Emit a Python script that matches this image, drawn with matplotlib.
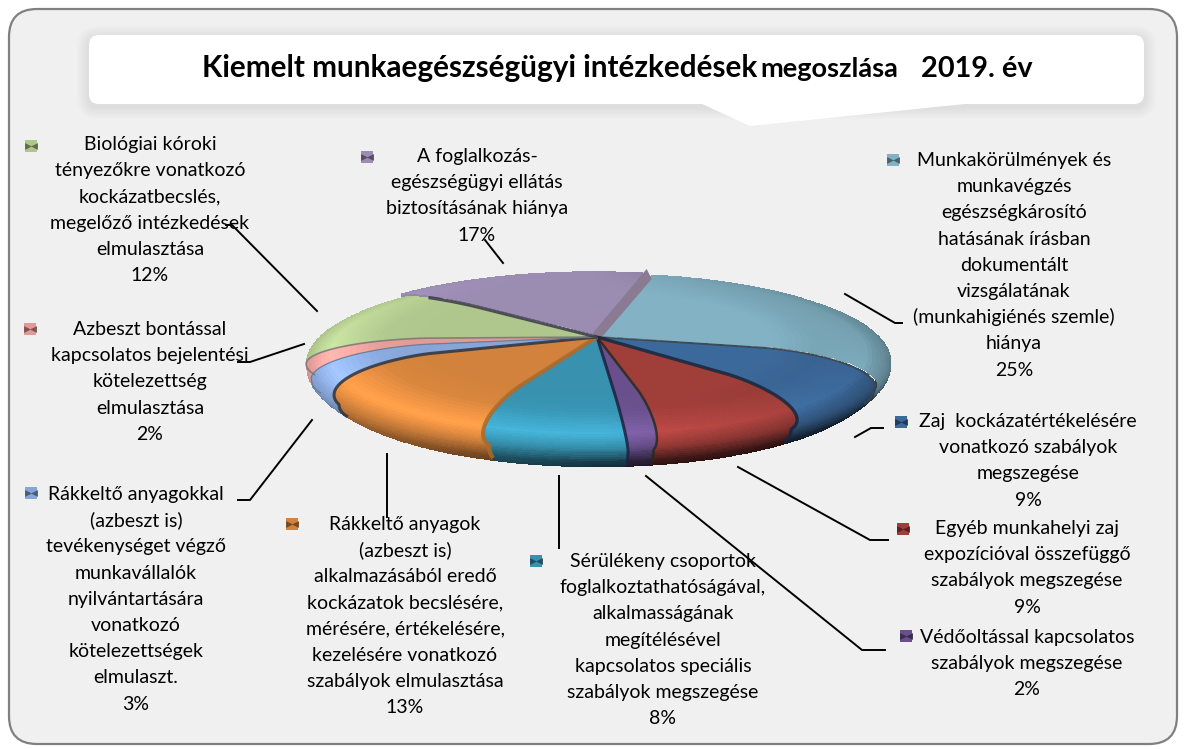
import numpy as np
import matplotlib
matplotlib.use("Agg")
import matplotlib.pyplot as plt
from matplotlib.patches import FancyBboxPatch, Polygon

plt.rcParams["font.family"] = ["Lato", "DejaVu Sans"]

# Slices, clockwise from the gap at the top
values = [25, 9, 9, 2, 8, 13, 3, 2, 12, 17]
labels = [
    "Munkakörülmények és\nmunkavégzés\negészségkárosító\nhatásának írásban\ndokumentált\nvizsgálatának\n(munkahigiénés szemle)\nhiánya",
    "Zaj  kockázatértékelésére\nvonatkozó szabályok\nmegszegése",
    "Egyéb munkahelyi zaj\nexpozícióval összefüggő\nszabályok megszegése",
    "Védőoltással kapcsolatos\nszabályok megszegése",
    "Sérülékeny csoportok\nfoglalkoztathatóságával,\nalkalmasságának\nmegítélésével\nkapcsolatos speciális\nszabályok megszegése",
    "Rákkeltő anyagok\n(azbeszt is)\nalkalmazásából eredő\nkockázatok becslésére,\nmérésére, értékelésére,\nkezelésére vonatkozó\nszabályok elmulasztása",
    "Rákkeltő anyagokkal\n(azbeszt is)\ntevékenységet végző\nmunkavállalók\nnyilvántartására\nvonatkozó\nkötelezettségek\nelmulaszt.",
    "Azbeszt bontással\nkapcsolatos bejelentési\nkötelezettség\nelmulasztása",
    "Biológiai kóroki\ntényezőkre vonatkozó\nkockázatbecslés,\nmegelőző intézkedések\nelmulasztása",
    "A foglalkozás-\negészségügyi ellátás\nbiztosításának hiánya",
]
colors = ["#82b2c4", "#3c699b", "#a03e3a", "#69508c", "#3791af",
          "#d2823c", "#87a5d7", "#e19b96", "#afc68c", "#9b8cb2"]
edge_colors = ["#3c464b", "#14283f", "#2a2a18", "#1c2440", "#b06a28",
               "#2c3440", "#667788", "#777777", "#3a3a4a", "#3a3a4a"]
edge_widths = [1.4, 2.4, 1.8, 2.2, 3.0, 2.2, 0.9, 1.2, 2.4, 0.0]

# Label placement (centre x, y of first line), legend key, leader line
label_pos = [(1014, 161), (1028, 422), (1027, 529), (1027, 638), (663, 562),
             (405, 525), (136, 495), (150, 330), (150, 145), (477, 157)]
key_pos = [(893, 160), (901, 422), (903, 529), (906, 636), (536, 561),
           (292, 524), (31, 493), (30, 329), (31, 146), (367, 157)]
leaders = [
    [(845, 294), (895, 323), (902, 323)],
    [(855, 437), (871, 428), (883, 428)],
    [(738, 467), (870, 540), (888, 540)],
    [(646, 476), (862, 650), (885, 650)],
    [(559, 476), (559, 548)],
    [(387, 454), (387, 517)],
    [(312, 420), (250, 500), (238, 500)],
    [(304, 344), (250, 362), (238, 362)],
    [(317, 311), (232, 225), (226, 225)],
    [(503, 263), (485, 240)],
]
LINE_STEP = 26.2

# Pie geometry in pixels
HUB_X, HUB_Y = 597, 337
A, B, K = 285, 80, 0.2
R0, DEPTH = 0.6, 36
START = 13
shifts = {0: (0.012, 0.02), 9: (-0.015, 0.05)}
# the bevel bends slice borders, how far at the outer rim (degrees)
warp_at = [13, 103, 135, 168, 175, 204, 251, 261, 268, 311, 373]
warp_by = [0, 16, 10, 3, 0, -6, -18, -14, -10, -2, 0]


def project(r, th, z, w=0.0, shift=(0, 0)):
    # th is clockwise from the back of the pie, degrees
    t = np.radians(th + w * np.interp(th, warp_at, warp_by))
    x = r * np.sin(t) + shift[0]
    y = r * np.cos(t) + shift[1]
    weight = 0.3 + 0.7 * (1 - y) / 2
    d = 1 + K * y
    return HUB_X + A * x / d, HUB_Y - B * y / d + z * DEPTH * weight


def profile():
    # rim bottom -> hub: radius, drop, warp weight and position s along the bevel
    t = np.linspace(1, 0, 10)
    phi = np.radians(np.linspace(90, 0, 26))[1:]
    r = np.concatenate([1 - 0.05 * t ** 2, R0 + (1 - R0) * np.sin(phi), [0.45, 0.3, 0.15, 0.0]])
    z = np.concatenate([0.4 + 0.6 * t, 0.4 * (1 - np.cos(phi)), [0, 0, 0, 0]])
    s = np.concatenate([0.6 + 0.4 * t, 0.6 * phi / (np.pi / 2), [0, 0, 0, 0]])
    w = np.clip(s / 0.6, 0, 1) ** 1.3
    return r, z, w, s


def draw_slice(ax, a0, a1, base, shift):
    th = np.linspace(a0, a1, max(int(a1 - a0) * 2, 4))
    r, z, w, s = profile()
    TH, R = np.meshgrid(th, r)
    Z = np.repeat(z[:, None], len(th), axis=1)
    W = np.repeat(w[:, None], len(th), axis=1)
    X, Y = project(R, TH, Z, W, shift)
    # brightness across the bevel, stronger towards the front
    th_c = np.radians((TH[:-1, :-1] + TH[:-1, 1:]) / 2)
    s_c = (s[:-1] + s[1:])[:, None] / 2
    bright = np.interp(s_c, [0, 0.15, 0.35, 0.5, 0.65, 0.8, 1], [1, 1.03, 1.25, 1.0, 0.7, 0.42, 0.3])
    front = np.clip(0.7 - 0.75 * np.cos(th_c), 0, 1)
    dark = front * (1 + 0.6 * np.minimum(np.sin(th_c), 0))
    shade = np.where(bright > 1, 1 + front * (bright - 1), 1 + dark * (bright - 1))
    # right side of the rim sits in shadow, left side a bit lighter
    side = np.clip(np.sin(th_c), -1, 1) * np.clip(s_c / 0.4, 0, 1)
    shade = shade * (1 - 0.25 * np.maximum(side, 0))
    rgb = np.array(matplotlib.colors.to_rgb(base))
    C = np.clip(rgb[None, None, :] * shade[:, :, None], 0, 1)
    ax.pcolormesh(X, Y, C, edgecolors="face", linewidth=0.4, zorder=3)


def soft_shadow(ax, x0, y0, w, h, pad, n=6):
    for i in range(n):
        g = 2 + i * 2
        ax.add_patch(FancyBboxPatch((x0 - g, y0 - g + 3), w + 2 * g, h + 2 * g,
                                    boxstyle=f"round,pad=0,rounding_size={pad + g}",
                                    fc="black", ec="none", alpha=0.012, zorder=1))


fig = plt.figure(figsize=(11.86, 7.49), dpi=100)
ax = fig.add_axes([0, 0, 1, 1])

# Panel
ax.add_patch(FancyBboxPatch((9, 9), 1168, 735, boxstyle="round,pad=0,rounding_size=28",
                            fc="#f0f0f0", ec="#808080", lw=1.6, zorder=0))

# Title callout
soft_shadow(ax, 89, 35, 1055, 69, 10)
ax.add_patch(FancyBboxPatch((89, 35), 1055, 69, boxstyle="round,pad=0,rounding_size=10",
                            fc="white", ec="none", zorder=2))
ax.add_patch(Polygon([(700, 103), (750, 126), (965, 104)], fc="white", ec="none", zorder=2))
ax.text(202, 77, "Kiemelt munkaegészségügyi intézkedések", fontsize=21.4, fontweight="bold",
        va="baseline", ha="left", zorder=5)
ax.text(760, 77, "megoszlása", fontsize=19.5, fontweight="bold", va="baseline", ha="left", zorder=5)
ax.text(921, 77, "2019. év", fontsize=20.8, fontweight="bold", va="baseline", ha="left", zorder=5)

# Pie slices, angles come from the values
edges = START + np.cumsum([0] + values) * 3.6
order = sorted(range(len(values)),
               key=lambda i: np.cos(np.radians((edges[i] + edges[i + 1]) / 2)), reverse=True)
for i in order:
    draw_slice(ax, edges[i], edges[i + 1], colors[i], shifts.get(i, (0, 0)))

# Cut face of the lifted lilac slice
r_line = np.array([0.0, 1.0])
x_top, y_top = project(r_line, edges[10], 0, 0.0, shifts[9])
ax.add_patch(Polygon([(x_top[0], y_top[0]), (x_top[1], y_top[1]),
                      (x_top[1] + 5, y_top[1] + 10), (x_top[0] + 4, y_top[0] + 10)],
                     fc="#8a7b92", ec="none", zorder=4))

# Dark lines between slices, following the bevel; at the back they stop at the edge
r, z, w, s = profile()
for i in range(1, len(values)):
    if edge_widths[i - 1] == 0:
        continue
    keep = s < (0.93 if np.cos(np.radians(edges[i])) < 0.3 else 0.3)
    lx, ly = project(r[keep], edges[i], z[keep], w[keep])
    ax.plot(lx, ly, color=edge_colors[i - 1], lw=edge_widths[i - 1], alpha=0.85,
            solid_capstyle="butt", zorder=4)

# Leader lines
for pts in leaders:
    xs, ys = zip(*pts)
    ax.plot(xs, ys, color="black", lw=1.4, zorder=5)

# Labels and legend keys
for i, (label, v) in enumerate(zip(labels, values)):
    lx, ly = label_pos[i]
    for n, line in enumerate(f"{label}\n{v}%".split("\n")):
        ax.text(lx, ly + 5 + n * LINE_STEP, line, ha="center", va="baseline", fontsize=14,
                color="black", zorder=6)
    kx, ky = key_pos[i]
    ax.scatter([kx], [ky], marker="s", s=85, color=colors[i], linewidths=0, zorder=6)
    dark = np.array(matplotlib.colors.to_rgb(colors[i])) * 0.55
    ax.scatter([kx - 3], [ky], marker=">", s=24, color=[dark], linewidths=0, zorder=7)
    ax.scatter([kx + 3], [ky], marker="<", s=24, color=[dark], linewidths=0, zorder=7)

ax.set_xlim(0, 1186)
ax.set_ylim(749, 0)
ax.axis("off")
fig.savefig("out.png", dpi=100, facecolor="white")
